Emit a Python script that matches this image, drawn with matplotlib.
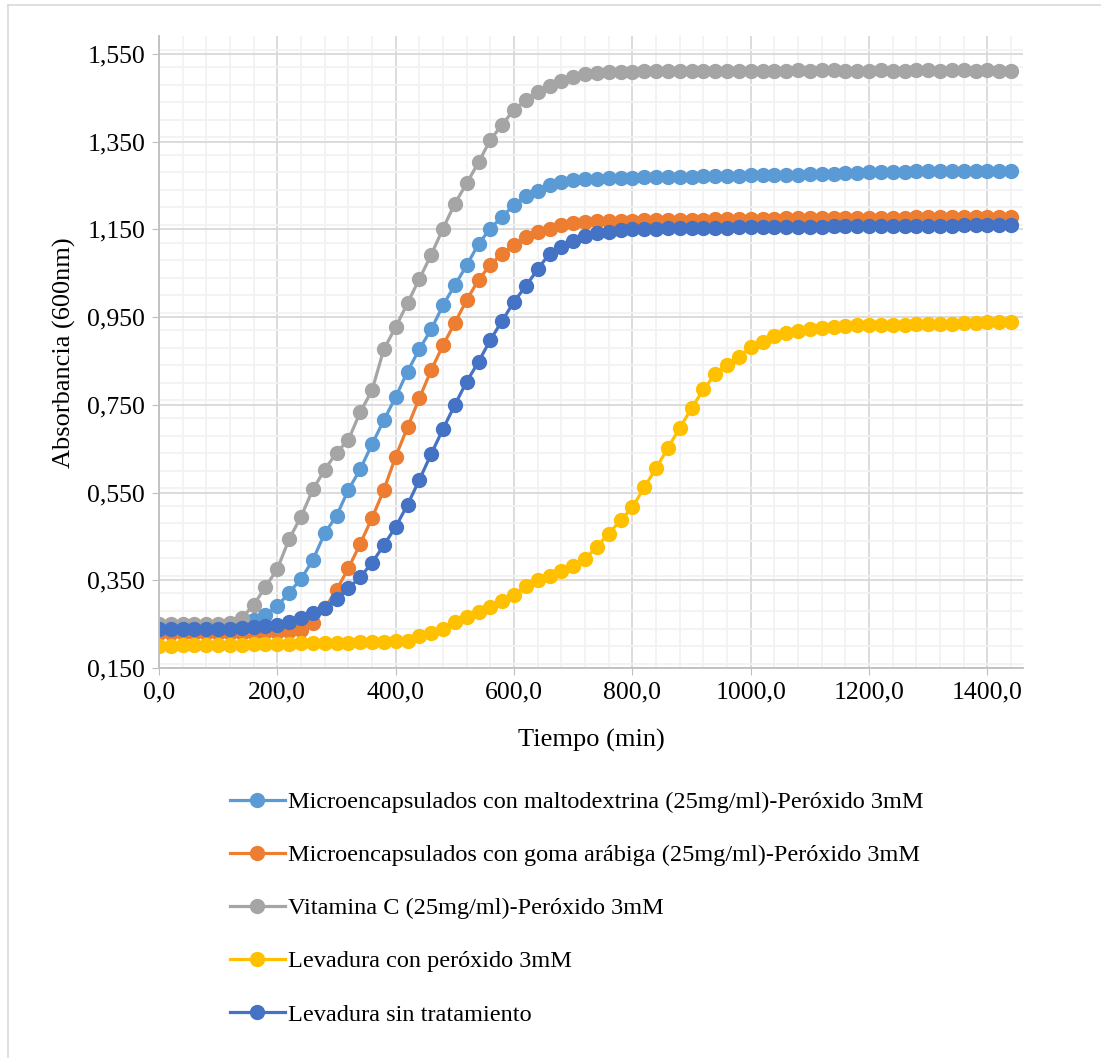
import matplotlib
matplotlib.use("Agg")
import matplotlib.pyplot as plt
import numpy as np
from matplotlib.ticker import MultipleLocator, FuncFormatter
from matplotlib.lines import Line2D

plt.rcParams['font.family'] = ['Liberation Serif', 'DejaVu Serif']

# tiempo (min), one reading every 20 min
tiempo = list(range(0, 1441, 20))

maltodextrina = [0.245, 0.245, 0.245, 0.245, 0.245, 0.245, 0.246, 0.252, 0.260, 0.271,
                 0.291, 0.322, 0.353, 0.396, 0.457, 0.497, 0.556, 0.603, 0.660, 0.715,
                 0.768, 0.826, 0.877, 0.922, 0.977, 1.023, 1.068, 1.117, 1.152, 1.179,
                 1.206, 1.225, 1.238, 1.252, 1.259, 1.262, 1.264, 1.266, 1.267, 1.268,
                 1.268, 1.269, 1.269, 1.270, 1.270, 1.270, 1.271, 1.271, 1.272, 1.272,
                 1.273, 1.274, 1.274, 1.275, 1.275, 1.276, 1.276, 1.277, 1.278, 1.279,
                 1.280, 1.280, 1.281, 1.281, 1.282, 1.282, 1.282, 1.283, 1.283, 1.283,
                 1.284, 1.284, 1.284]

goma_arabiga = [0.229, 0.229, 0.229, 0.229, 0.229, 0.229, 0.229, 0.229, 0.230, 0.231,
                0.232, 0.234, 0.237, 0.252, 0.286, 0.328, 0.377, 0.433, 0.492, 0.556,
                0.632, 0.699, 0.765, 0.829, 0.886, 0.937, 0.989, 1.035, 1.069, 1.095,
                1.114, 1.132, 1.145, 1.152, 1.160, 1.165, 1.167, 1.168, 1.169, 1.170,
                1.170, 1.171, 1.171, 1.171, 1.172, 1.172, 1.172, 1.173, 1.173, 1.173,
                1.174, 1.174, 1.174, 1.175, 1.175, 1.175, 1.176, 1.176, 1.176, 1.176,
                1.177, 1.177, 1.177, 1.177, 1.178, 1.178, 1.178, 1.178, 1.178, 1.179,
                1.179, 1.179, 1.179]

vitamina_c = [0.250, 0.250, 0.250, 0.250, 0.250, 0.250, 0.253, 0.264, 0.294, 0.335,
              0.376, 0.444, 0.495, 0.557, 0.602, 0.641, 0.670, 0.733, 0.783, 0.877,
              0.927, 0.982, 1.037, 1.092, 1.152, 1.209, 1.255, 1.303, 1.354, 1.389,
              1.423, 1.444, 1.463, 1.478, 1.489, 1.498, 1.504, 1.507, 1.508, 1.509,
              1.509, 1.510, 1.510, 1.510, 1.511, 1.510, 1.511, 1.511, 1.512, 1.511,
              1.511, 1.512, 1.511, 1.512, 1.513, 1.512, 1.513, 1.513, 1.512, 1.512,
              1.512, 1.513, 1.512, 1.512, 1.513, 1.513, 1.512, 1.513, 1.513, 1.512,
              1.513, 1.512, 1.512]

levadura_peroxido = [0.201, 0.201, 0.202, 0.202, 0.202, 0.203, 0.203, 0.203, 0.204, 0.204,
                     0.205, 0.205, 0.206, 0.206, 0.207, 0.207, 0.208, 0.209, 0.210, 0.210,
                     0.212, 0.212, 0.223, 0.230, 0.238, 0.256, 0.267, 0.278, 0.290, 0.303,
                     0.316, 0.337, 0.351, 0.360, 0.372, 0.383, 0.398, 0.427, 0.456, 0.487,
                     0.516, 0.562, 0.605, 0.652, 0.697, 0.742, 0.785, 0.820, 0.841, 0.860,
                     0.881, 0.894, 0.907, 0.913, 0.918, 0.924, 0.926, 0.928, 0.929, 0.931,
                     0.932, 0.932, 0.933, 0.933, 0.934, 0.934, 0.935, 0.935, 0.936, 0.937,
                     0.938, 0.939, 0.940]

levadura_sin = [0.240, 0.240, 0.240, 0.240, 0.240, 0.240, 0.240, 0.241, 0.243, 0.245,
                0.248, 0.256, 0.265, 0.275, 0.287, 0.307, 0.332, 0.357, 0.390, 0.430,
                0.472, 0.522, 0.579, 0.638, 0.695, 0.750, 0.803, 0.848, 0.898, 0.942,
                0.985, 1.021, 1.059, 1.095, 1.110, 1.124, 1.134, 1.141, 1.145, 1.149,
                1.151, 1.152, 1.152, 1.153, 1.153, 1.153, 1.154, 1.154, 1.154, 1.155,
                1.155, 1.155, 1.155, 1.156, 1.156, 1.156, 1.156, 1.157, 1.157, 1.157,
                1.157, 1.157, 1.158, 1.158, 1.158, 1.158, 1.158, 1.158, 1.159, 1.159,
                1.159, 1.159, 1.159]

etiquetas = ["Microencapsulados con maltodextrina (25mg/ml)-Peróxido 3mM",
             "Microencapsulados con goma arábiga (25mg/ml)-Peróxido 3mM",
             "Vitamina C (25mg/ml)-Peróxido 3mM",
             "Levadura con peróxido 3mM",
             "Levadura sin tratamiento"]
series = [maltodextrina, goma_arabiga, vitamina_c, levadura_peroxido, levadura_sin]
colores = ["#5B9BD5", "#ED7D31", "#A5A5A5", "#FFC000", "#4472C4"]

fig = plt.figure(figsize=(11.01, 10.58), dpi=100)
ax = fig.add_axes([0.1444, 0.3686, 0.7847, 0.597])

for datos, nombre, c in zip(series, etiquetas, colores):
    ax.plot(tiempo, datos, color=c, lw=2.3, marker='o', markersize=10, label=nombre)

ax.set_xlim(0, 1460)
ax.set_ylim(0.15, 1.59)
ax.xaxis.set_minor_locator(MultipleLocator(40))
ax.yaxis.set_minor_locator(MultipleLocator(0.04))
ax.set_yticks(np.arange(0.15, 1.56, 0.2))
ax.set_xticks(range(0, 1401, 200))
ax.xaxis.set_major_formatter(FuncFormatter(lambda v, p: f"{v:.1f}".replace(".", ",")))
ax.yaxis.set_major_formatter(FuncFormatter(lambda v, p: f"{v:.3f}".replace(".", ",")))

ax.grid(which='major', color='#D9D9D9', lw=1.3)
ax.grid(which='minor', color='#F2F2F2', lw=1.3)
ax.set_axisbelow(True)
for s in ['top', 'right']:
    ax.spines[s].set_visible(False)
for s in ['left', 'bottom']:
    ax.spines[s].set_color('#BFBFBF')
    ax.spines[s].set_linewidth(1.3)
ax.tick_params(which='major', length=5, color='#BFBFBF', labelsize=18.5, pad=5)
ax.tick_params(which='minor', length=0)

ax.set_xlabel("Tiempo (min)", fontsize=19, labelpad=18)
ax.set_ylabel("Absorbancia (600nm)", fontsize=19, labelpad=8)

fig.legend(loc='upper left', bbox_to_anchor=(0.189, 0.273), frameon=False,
           fontsize=17.5, handlelength=2.26, handletextpad=0.12, labelspacing=1.28)

# light border of the chart area
fig.add_artist(Line2D([7.5 / 1101, 7.5 / 1101], [0, 1 - 4.5 / 1058], color='#D9D9D9', lw=1.2))
fig.add_artist(Line2D([7.5 / 1101, 1], [1 - 4.5 / 1058, 1 - 4.5 / 1058], color='#D9D9D9', lw=1.2))

fig.savefig("out.png", dpi=100)
